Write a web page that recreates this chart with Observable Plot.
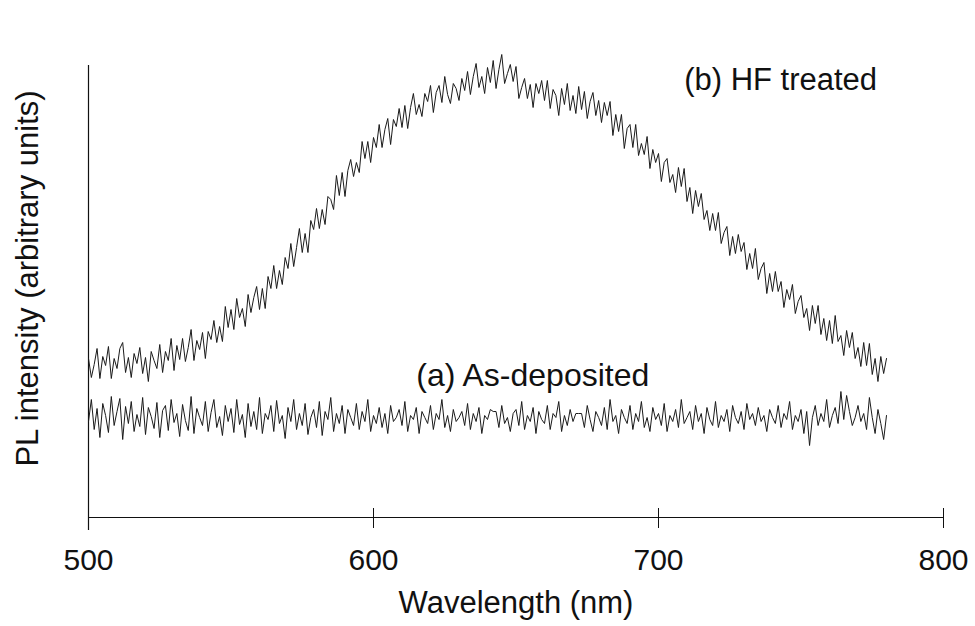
<!DOCTYPE html>
<html>
<head>
<meta charset="utf-8">
<script src="https://cdn.jsdelivr.net/npm/d3@7"></script>
<script src="https://cdn.jsdelivr.net/npm/@observablehq/plot@0.6"></script>
<style>
  html, body { margin: 0; padding: 0; background: #fff; }
</style>
</head>
<body>
<div id="chart"></div>
<script>
// Sampling grid (nm)
const wavelength = d3.range(500, 781, 1);

// (b) HF treated — PL intensity (arbitrary units)
const hfTreated = [
  159, 140, 153, 169, 139, 161, 152, 171, 139, 159,
  149, 169, 175, 145, 160, 140, 164, 154, 170, 144,
  160, 136, 166, 157, 149, 173, 145, 166, 157, 179,
  147, 172, 158, 179, 156, 170, 188, 157, 177, 168,
  185, 159, 186, 178, 197, 175, 191, 176, 211, 190,
  208, 188, 219, 200, 209, 191, 223, 205, 220, 231,
  208, 229, 209, 241, 229, 252, 229, 247, 233, 260,
  249, 274, 251, 270, 289, 265, 284, 265, 297, 288,
  309, 289, 308, 293, 321, 318, 308, 342, 322, 345,
  321, 347, 358, 341, 355, 345, 376, 359, 376, 355,
  380, 370, 393, 370, 388, 399, 373, 398, 391, 409,
  390, 412, 389, 410, 424, 403, 413, 401, 424, 416,
  432, 405, 425, 432, 415, 441, 423, 414, 434, 429,
  417, 439, 427, 446, 423, 441, 454, 430, 441, 424,
  450, 435, 457, 429, 448, 463, 434, 444, 453, 436,
  451, 419, 430, 439, 419, 433, 410, 434, 424, 437,
  417, 437, 409, 428, 422, 402, 429, 413, 434, 407,
  422, 404, 431, 408, 426, 399, 416, 425, 402, 417,
  395, 415, 402, 416, 382, 403, 386, 403, 369, 389,
  393, 370, 393, 362, 374, 363, 381, 349, 368, 355,
  364, 336, 355, 359, 335, 343, 325, 350, 331, 349,
  316, 330, 304, 327, 311, 324, 298, 307, 287, 304,
  287, 305, 274, 285, 291, 262, 281, 264, 283, 266,
  275, 248, 264, 249, 269, 238, 249, 255, 224, 244,
  226, 246, 226, 236, 210, 228, 218, 233, 204, 216,
  222, 200, 209, 187, 212, 194, 212, 183, 199, 177,
  197, 174, 202, 176, 182, 162, 187, 170, 185, 159,
  170, 151, 175, 152, 174, 143, 159, 136, 161, 144,
  159
];

// (a) As-deposited — PL intensity (arbitrary units)
const asDeposited = [
  96, 118, 88, 109, 80, 114, 102, 85, 121, 92,
  106, 119, 78, 111, 94, 116, 86, 103, 91, 120,
  83, 110, 101, 89, 115, 80, 107, 112, 87, 118,
  95, 104, 81, 113, 97, 87, 121, 84, 109, 100,
  92, 116, 86, 105, 118, 90, 101, 82, 112, 96,
  109, 85, 118, 93, 103, 80, 114, 91, 106, 88,
  120, 84, 104, 98, 112, 86, 117, 94, 102, 79,
  110, 96, 118, 88, 104, 92, 114, 83, 100, 108,
  90, 116, 82, 106, 98, 120, 86, 104, 94, 112,
  84, 108, 100, 92, 114, 88, 106, 96, 118, 86,
  102, 94, 110, 90, 104, 84, 112, 96, 100, 108,
  92, 116, 86, 102, 98, 110, 84, 106, 100, 94,
  112, 88, 104, 98, 118, 90, 102, 86, 108, 96,
  100, 106, 92, 114, 88, 104, 96, 110, 84, 102,
  98, 108, 106, 106, 90, 112, 94, 100, 86, 104,
  108, 92, 116, 88, 102, 96, 110, 84, 106, 98,
  94, 112, 88, 104, 100, 116, 86, 102, 92, 108,
  96, 104, 104, 104, 90, 112, 98, 86, 106, 100,
  92, 110, 88, 118, 96, 102, 84, 108, 100, 94,
  112, 88, 104, 96, 116, 90, 100, 86, 110, 98,
  104, 92, 114, 86, 102, 96, 108, 90, 118, 94,
  100, 106, 88, 112, 96, 104, 84, 110, 98, 92,
  116, 90, 102, 96, 108, 86, 112, 100, 94, 106,
  88, 114, 98, 104, 92, 110, 96, 102, 86, 108,
  100, 94, 112, 90, 104, 98, 116, 88, 102, 96,
  108, 84, 106, 72, 100, 112, 92, 104, 96, 118,
  90, 102, 110, 94, 126, 98, 122, 106, 92, 100,
  112, 96, 104, 88, 120, 100, 84, 108, 94, 78,
  102
];

const xTicks = [500, 600, 700, 800];
const xLabel = "Wavelength (nm)";
const yLabel = "PL intensity (arbitrary units)";
const seriesLabels = ["(b) HF treated", "(a) As-deposited"];

const table = wavelength.map((w, i) => ({w, hf: hfTreated[i], as: asDeposited[i]}));

const ink = "#111";
const chart = Plot.plot({
  width: 975,
  height: 626,
  marginLeft: 88,
  marginRight: 32,
  marginTop: 65,
  marginBottom: 109,
  x: {domain: [500, 800], axis: null},
  y: {domain: [0, 452], axis: null},
  style: {fontFamily: "'Liberation Sans', Arial, Helvetica, sans-serif", background: "#fff", color: ink},
  marks: [
    Plot.ruleY([0], {stroke: ink, strokeWidth: 1.2}),
    Plot.ruleX([xTicks[0]], {y1: -13, y2: 452, stroke: ink, strokeWidth: 1.2}),
    Plot.ruleX(xTicks.slice(1), {y1: -11, y2: 9, stroke: ink, strokeWidth: 1}),
    Plot.lineY(table, {x: "w", y: "hf", stroke: "#1a1a1a", strokeWidth: 1}),
    Plot.lineY(table, {x: "w", y: "as", stroke: "#1a1a1a", strokeWidth: 1}),
    Plot.text(xTicks, {x: d => d, frameAnchor: "bottom", lineAnchor: "top", dy: 31, fontSize: 30, fill: ink}),
    Plot.text([xLabel], {frameAnchor: "bottom", dy: 95, fontSize: 31, fill: ink}),
    Plot.text([yLabel], {frameAnchor: "left", textAnchor: "middle", rotate: -90, dx: -60, dy: -13, fontSize: 31, fill: ink}),
    Plot.text([seriesLabels[0]], {x: 709, y: 437, textAnchor: "start", fontSize: 31, fill: ink}),
    Plot.text([seriesLabels[1]], {x: 615, y: 142, textAnchor: "start", fontSize: 32, fill: ink})
  ]
});
document.getElementById("chart").appendChild(chart);
</script>
</body>
</html>
